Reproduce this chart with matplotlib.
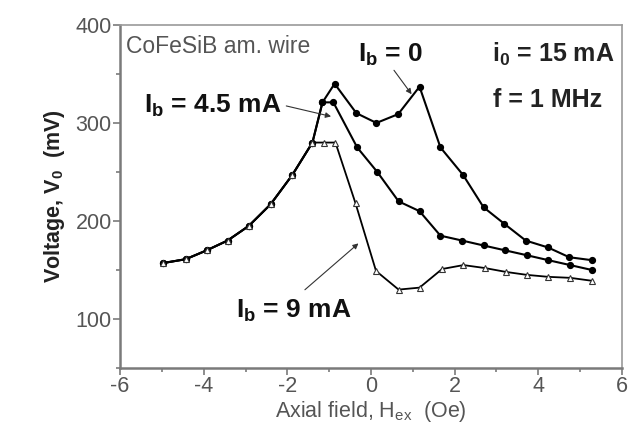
import numpy as np
import matplotlib
matplotlib.use("Agg")
import matplotlib.pyplot as plt
from matplotlib.ticker import MultipleLocator

plt.rcParams["font.family"] = ["Liberation Sans", "DejaVu Sans"]
plt.rcParams["mathtext.fontset"] = "custom"
plt.rcParams["mathtext.rm"] = "Liberation Sans"
plt.rcParams["mathtext.bf"] = "Liberation Sans:bold"
plt.rcParams["axes.unicode_minus"] = False

# -------------------------
# Data
# -------------------------
# shared rising branch (all three curves overlap here)
h_common = [-4.98, -4.43, -3.93, -3.43, -2.92, -2.40, -1.88, -1.40]
v_common = [157, 161, 170, 180, 195, 217, 247, 280]

# Ib = 0
h_ib0 = h_common + [-1.16, -0.87, -0.35, 0.13, 0.65, 1.16, 1.66, 2.20,
                    2.69, 3.19, 3.70, 4.23, 4.74, 5.28]
v_ib0 = v_common + [321, 340, 310, 300, 309, 337, 275, 247,
                    214, 197, 180, 173, 163, 160]

# Ib = 4.5 mA
h_ib45 = h_common + [-1.16, -0.90, -0.33, 0.15, 0.66, 1.16, 1.66, 2.18,
                     2.69, 3.21, 3.73, 4.24, 4.76, 5.28]
v_ib45 = v_common + [321, 321, 275, 250, 220, 210, 185, 180,
                     175, 170, 165, 160, 155, 150]

# Ib = 9 mA
h_ib9 = h_common + [-1.13, -0.85, -0.37, 0.12, 0.66, 1.16, 1.70, 2.21,
                    2.72, 3.23, 3.73, 4.24, 4.76, 5.28]
v_ib9 = v_common + [280, 280, 218, 149, 130, 132, 151, 155,
                    152, 148, 145, 143, 142, 139]

# -------------------------
# Figure
# -------------------------
fig = plt.figure(figsize=(6.33, 4.41), dpi=100)
ax = fig.add_axes([0.1896, 0.1655, 0.793, 0.778])

ax.plot(h_ib0, v_ib0, color="black", lw=1.5, marker="o", ms=4.2,
        mfc="black", mec="black")
ax.plot(h_ib45, v_ib45, color="black", lw=1.5, marker="o", ms=4.2,
        mfc="black", mec="black")
ax.plot(h_ib9, v_ib9, color="black", lw=1.3, marker="^", ms=5,
        mfc="white", mec="#333333", mew=0.8)

ax.set_xlim(-6, 6)
ax.set_ylim(50, 400)
ax.xaxis.set_major_locator(MultipleLocator(2))
ax.xaxis.set_minor_locator(MultipleLocator(1))
ax.yaxis.set_major_locator(MultipleLocator(100))
ax.yaxis.set_minor_locator(MultipleLocator(50))
ax.set_yticks([100, 200, 300, 400])

gray = "#7a7a7a"
for side in ["left", "bottom"]:
    ax.spines[side].set_color(gray)
    ax.spines[side].set_linewidth(1.8)
for side in ["top", "right"]:
    ax.spines[side].set_color("#9a9a9a")
    ax.spines[side].set_linewidth(1.2)

ax.tick_params(which="major", direction="out", length=5, width=1.2,
               color=gray, labelcolor="#555555", labelsize=15.5, pad=1)
ax.tick_params(which="minor", direction="out", length=3, width=1.2,
               color=gray)

ax.set_xlabel(r"Axial field, $\mathregular{H_{ex}}$  (Oe)", fontsize=15.5,
              color="#555555", labelpad=1)
ax.set_ylabel(r"Voltage, $\mathregular{V_0}$  (mV)", fontsize=15.5,
              fontweight="bold", color="#222222", labelpad=6)

# -------------------------
# Annotations
# -------------------------
ax.text(-5.86, 371, "CoFeSiB am. wire", fontsize=16.5, color="#555555")
ax.text(2.89, 362, r"$\mathregular{i_0}$ = 15 mA", fontsize=18,
        fontweight="bold", color="#222222")
ax.text(2.92, 316, "f = 1 MHz", fontsize=18, fontweight="bold",
        color="#222222")

ax.text(-0.30, 362, r"$\mathregular{I_b}$ = 0", fontsize=19,
        fontweight="bold", color="#111111")
ax.annotate("", xy=(1.01, 327), xytext=(0.51, 356),
            arrowprops=dict(arrowstyle="-|>", color="#333333", lw=0.8,
                            mutation_scale=8))

ax.text(-5.43, 310, r"$\mathregular{I_b}$ = 4.5 mA", fontsize=19,
        fontweight="bold", color="#111111")
ax.annotate("", xy=(-0.89, 306), xytext=(-2.09, 318),
            arrowprops=dict(arrowstyle="-|>", color="#333333", lw=0.8,
                            mutation_scale=8))

ax.text(-3.23, 101, r"$\mathregular{I_b}$ = 9 mA", fontsize=19,
        fontweight="bold", color="#111111")
ax.annotate("", xy=(-0.25, 179), xytext=(-1.63, 128),
            arrowprops=dict(arrowstyle="-|>", color="#333333", lw=0.8,
                            mutation_scale=8))

fig.savefig("out.png", dpi=100)
